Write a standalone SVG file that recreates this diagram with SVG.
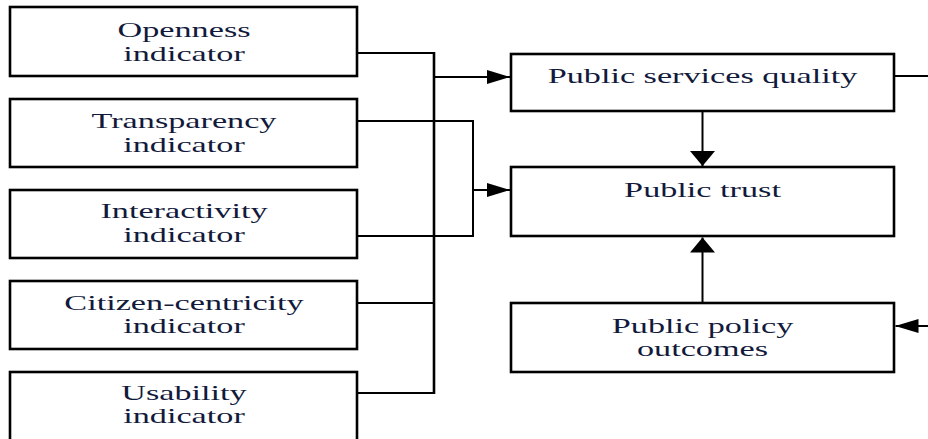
<svg xmlns="http://www.w3.org/2000/svg" width="928" height="439" viewBox="0 0 928 439">
  <style>
    .box { fill: #ffffff; stroke: #000000; stroke-width: 2.6; }
    .lbl { font-family: "Liberation Serif", "Times New Roman", serif; font-size: 21px; fill: #121a3c; text-anchor: middle; }
    .wire { fill: none; stroke: #000000; stroke-width: 2; }
    .bus { fill: none; stroke: #000000; stroke-width: 2.6; }
  </style>
  <defs>
    <!-- horizontal heads are long and flat, vertical heads short and wide -->
    <marker id="headH" viewBox="0 0 23 14" refX="23" refY="7" markerWidth="23" markerHeight="14" markerUnits="userSpaceOnUse" orient="auto">
      <path d="M0 0 L23 7 L0 14 Z" fill="#000000"/>
    </marker>
    <marker id="headV" viewBox="0 0 15 25" refX="15" refY="12.5" markerWidth="15" markerHeight="25" markerUnits="userSpaceOnUse" orient="auto">
      <path d="M0 0 L15 12.5 L0 25 Z" fill="#000000"/>
    </marker>
  </defs>

  <rect width="928" height="439" fill="#ffffff"/>

  <!-- connectors -->
  <g id="connectors">
    <!-- shared bus collecting openness, citizen-centricity and usability -->
    <path class="wire" d="M357 53 H434"/>
    <path class="wire" d="M357 303 H434"/>
    <path class="wire" d="M357 393 H434"/>
    <path class="bus" d="M434 52 V394"/>
    <path class="wire" d="M434 77 H510" marker-end="url(#headH)"/>
    <!-- transparency and interactivity loop into public trust -->
    <path class="wire" d="M357 121 H473 V236 H357"/>
    <path class="wire" d="M473 190 H510" marker-end="url(#headH)"/>
    <!-- vertical links into public trust -->
    <path class="wire" d="M702.5 111 V166" marker-end="url(#headV)"/>
    <path class="wire" d="M702.5 303 V237.5" marker-end="url(#headV)"/>
    <!-- outgoing / incoming lines at the right edge -->
    <path class="wire" d="M894 76 H930"/>
    <path class="wire" d="M930 326 H895.5" marker-end="url(#headH)"/>
  </g>

  <g id="openness">
    <rect class="box" x="10" y="7" width="347" height="69"/>
    <text class="lbl" transform="translate(184 37) scale(1.63 1)">Openness</text>
    <text class="lbl" transform="translate(184 61) scale(1.63 1)">indicator</text>
  </g>
  <g id="transparency">
    <rect class="box" x="10" y="99" width="347" height="68"/>
    <text class="lbl" transform="translate(184 128) scale(1.63 1)">Transparency</text>
    <text class="lbl" transform="translate(184 152) scale(1.63 1)">indicator</text>
  </g>
  <g id="interactivity">
    <rect class="box" x="10" y="190" width="347" height="68"/>
    <text class="lbl" transform="translate(184 218) scale(1.63 1)">Interactivity</text>
    <text class="lbl" transform="translate(184 242) scale(1.63 1)">indicator</text>
  </g>
  <g id="citizen-centricity">
    <rect class="box" x="10" y="281" width="347" height="68"/>
    <text class="lbl" transform="translate(184 310) scale(1.63 1)">Citizen-centricity</text>
    <text class="lbl" transform="translate(184 333) scale(1.63 1)">indicator</text>
  </g>
  <g id="usability">
    <rect class="box" x="10" y="372" width="347" height="70"/>
    <text class="lbl" transform="translate(184 400) scale(1.63 1)">Usability</text>
    <text class="lbl" transform="translate(184 423) scale(1.63 1)">indicator</text>
  </g>

  <g id="services-quality">
    <rect class="box" x="511" y="54" width="383" height="57"/>
    <text class="lbl" transform="translate(702.5 83) scale(1.63 1)">Public services quality</text>
  </g>
  <g id="public-trust">
    <rect class="box" x="511" y="167" width="383" height="69"/>
    <text class="lbl" transform="translate(702.5 197) scale(1.63 1)">Public trust</text>
  </g>
  <g id="policy-outcomes">
    <rect class="box" x="511" y="303" width="383" height="69"/>
    <text class="lbl" transform="translate(702.5 333) scale(1.63 1)">Public policy</text>
    <text class="lbl" transform="translate(702.5 356) scale(1.63 1)">outcomes</text>
  </g>
</svg>
